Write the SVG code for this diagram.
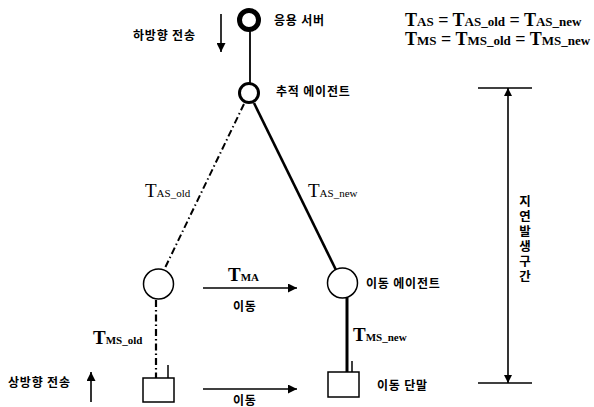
<svg xmlns="http://www.w3.org/2000/svg" width="594" height="407" viewBox="0 0 594 407">
<defs>
<marker id="ah" viewBox="0 0 10 10" refX="10" refY="5" markerWidth="9" markerHeight="9" markerUnits="userSpaceOnUse" orient="auto">
<path d="M0,0 L10,5 L0,10 z" fill="#000"/>
</marker>
<marker id="ahs" viewBox="0 0 10 10" refX="10" refY="5" markerWidth="8" markerHeight="8" markerUnits="userSpaceOnUse" orient="auto-start-reverse">
<path d="M0,0 L10,5 L0,10 z" fill="#000"/>
</marker>
</defs>
<style>
.k{font-family:"Noto Sans CJK KR","Noto Sans",sans-serif;font-size:12px;font-weight:bold;fill:#000;letter-spacing:0.8px}
.m{font-family:"Liberation Serif","Times New Roman",serif;fill:#000}
.big{font-size:19px}
.sm{font-size:11px}
.fb{font-weight:bold}
.node{fill:#fff;stroke:#000}
.ln{stroke:#000;fill:none}
.dd{stroke-dasharray:7,3,1.5,3}
</style>
<rect width="594" height="407" fill="#fff"/>
<g id="connectors">
<line class="ln" x1="250" y1="30" x2="250" y2="83" stroke-width="1.8"/>
<line class="ln dd" x1="244" y1="104" x2="164" y2="270" stroke-width="2"/>
<line class="ln" x1="254" y1="103" x2="336" y2="270" stroke-width="2.6"/>
<line class="ln dd" x1="156" y1="300" x2="156" y2="378" stroke-width="2.2"/>
<line class="ln" x1="347" y1="298" x2="347" y2="372" stroke-width="3"/>
<line class="ln" x1="203" y1="288" x2="297" y2="288" stroke-width="1.6" marker-end="url(#ah)"/>
<line class="ln" x1="203" y1="389" x2="297" y2="389" stroke-width="1.6" marker-end="url(#ah)"/>
</g>
<g id="legend-arrows">
<line class="ln" x1="221" y1="14" x2="221" y2="52" stroke-width="1.6" marker-end="url(#ah)"/>
<line class="ln" x1="91" y1="402" x2="91" y2="372" stroke-width="1.6" marker-end="url(#ah)"/>
<text class="k" x="133" y="40">하방향 전송</text>
<text class="k" x="8" y="387">상방향 전송</text>
</g>
<g id="app-server">
<circle class="node" cx="249" cy="20" r="9.5" stroke-width="5"/>
<text class="k" x="274" y="25">응용 서버</text>
</g>
<g id="tracking-agent">
<circle class="node" cx="249" cy="93" r="9.5" stroke-width="3"/>
<text class="k" x="276" y="96">추적 에이전트</text>
</g>
<g id="old-agent">
<circle class="node" cx="158.5" cy="284" r="15" stroke-width="1.5"/>
</g>
<g id="new-agent">
<circle class="node" cx="342.5" cy="283" r="15" stroke-width="1.5"/>
<text class="k" x="366" y="288">이동 에이전트</text>
</g>
<g id="old-terminal">
<rect class="node" x="143" y="378" width="31" height="24" stroke-width="1.5"/>
<line class="ln" x1="168" y1="365" x2="168" y2="378" stroke-width="1.5"/>
</g>
<g id="new-terminal">
<rect class="node" x="328" y="372" width="31" height="25" stroke-width="1.5"/>
<line class="ln" x1="352" y1="361" x2="352" y2="372" stroke-width="1.5"/>
<text class="k" x="377" y="390">이동 단말</text>
</g>
<g id="labels">
<text class="m" x="145" y="197"><tspan class="big">T</tspan><tspan class="sm">AS_old</tspan></text>
<text class="m" x="308" y="197"><tspan class="big">T</tspan><tspan class="sm">AS_new</tspan></text>
<text class="m fb" x="228" y="281"><tspan class="big">T</tspan><tspan class="sm">MA</tspan></text>
<text class="k" x="233" y="311">이동</text>
<text class="k" x="233" y="405">이동</text>
<text class="m fb" x="93" y="344"><tspan class="big">T</tspan><tspan class="sm">MS_old</tspan></text>
<text class="m fb" x="353" y="341"><tspan class="big">T</tspan><tspan class="sm">MS_new</tspan></text>
</g>
<g id="formula">
<text class="m fb" x="405" y="26"><tspan font-size="18">T</tspan><tspan font-size="13">AS</tspan><tspan font-size="18"> = T</tspan><tspan font-size="13">AS_old</tspan><tspan font-size="18"> = T</tspan><tspan font-size="13">AS_new</tspan></text>
<text class="m fb" x="405" y="45"><tspan font-size="18">T</tspan><tspan font-size="13">MS</tspan><tspan font-size="18"> = T</tspan><tspan font-size="13">MS_old</tspan><tspan font-size="18"> = T</tspan><tspan font-size="13">MS_new</tspan></text>
</g>
<g id="delay-interval">
<line class="ln" x1="478" y1="88" x2="532" y2="88" stroke-width="1.5"/>
<line class="ln" x1="478" y1="383" x2="532" y2="383" stroke-width="1.5"/>
<line class="ln" x1="508" y1="88" x2="508" y2="383" stroke-width="1.6" marker-start="url(#ahs)" marker-end="url(#ahs)"/>
<text class="k" x="525" y="195" style="font-size:12.5px;letter-spacing:2.5px;writing-mode:vertical-rl">지연발생구간</text>
</g>
</svg>
